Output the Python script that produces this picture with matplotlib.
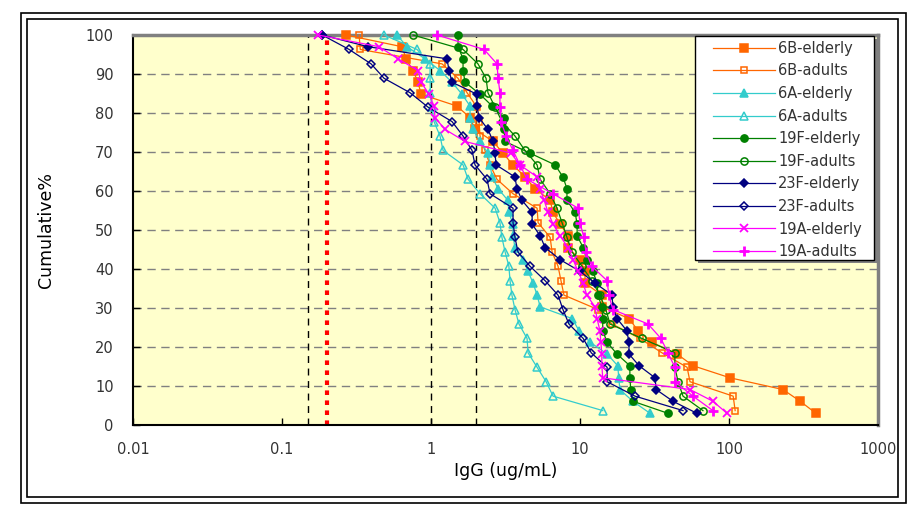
import matplotlib
matplotlib.use("Agg")
import matplotlib.pyplot as plt
from matplotlib.patches import Rectangle
from matplotlib.transforms import offset_copy

# cumulative % levels (elderly groups: 33 subjects, adults: 27 subjects)
y_elderly = [100, 97, 93.9, 90.9, 87.9, 84.8, 81.8, 78.8, 75.8, 72.7, 69.7,
             66.7, 63.6, 60.6, 57.6, 54.5, 51.5, 48.5, 45.5, 42.4, 39.4, 36.4,
             33.3, 30.3, 27.3, 24.2, 21.2, 18.2, 15.2, 12.1, 9.1, 6.1, 3]
y_adults = [100, 96.3, 92.6, 88.9, 85.2, 81.5, 77.8, 74.1, 70.4, 66.7, 63,
            59.3, 55.6, 51.9, 48.1, 44.4, 40.7, 37, 33.3, 29.6, 25.9, 22.2,
            18.5, 14.8, 11.1, 7.4, 3.7]

# IgG concentrations (ug/mL)
igg_6b_elderly = [0.269, 0.639, 0.68, 0.757, 0.818, 0.857, 1.49, 1.83, 1.97,
                  2.61, 3.04, 3.55, 4.27, 4.99, 6.30, 6.59, 7.35, 8.30, 8.30,
                  10.0, 10.8, 10.8, 14.0, 14.0, 21.3, 24.5, 30.4, 44.8, 57.3,
                  101.6, 230, 300, 383]
igg_6b_adults = [0.329, 0.335, 1.185, 1.518, 1.745, 2.034, 2.10, 2.133, 2.30,
                 2.49, 2.77, 3.55, 5.15, 5.23, 6.30, 6.49, 7.12, 7.45, 7.80,
                 13.2, 16.4, 25.2, 35.5, 52.3, 54.7, 106.6, 109.9]
igg_6a_elderly = [0.591, 0.69, 0.911, 1.149, 1.383, 1.614, 1.827, 1.827, 1.914,
                  2.133, 2.41, 2.49, 2.57, 2.82, 3.28, 3.33, 3.55, 3.55, 3.66,
                  4.14, 4.48, 4.84, 5.15, 5.40, 8.84, 9.85, 11.7, 15.2, 17.9,
                  18.2, 18.5, 22.6, 29.5]
igg_6a_adults = [0.484, 0.805, 0.985, 0.985, 0.99, 1.015, 1.047, 1.149, 1.204,
                 1.64, 1.772, 2.133, 2.69, 2.90, 2.99, 3.14, 3.33, 3.39, 3.49,
                 3.66, 3.89, 4.41, 4.48, 5.15, 5.92, 6.59, 14.2]
igg_19f_elderly = [1.518, 1.518, 1.64, 1.64, 1.692, 2.133, 2.57, 3.09, 3.09,
                   3.14, 4.62, 6.80, 7.68, 8.17, 8.17, 9.27, 9.56, 9.56, 10.5,
                   11.1, 12.2, 13.0, 13.2, 14.0, 14.2, 14.2, 15.2, 17.7, 21.6,
                   21.6, 21.9, 22.6, 38.9]
igg_19f_adults = [0.757, 1.64, 2.066, 2.34, 2.41, 2.69, 2.99, 3.66, 4.27, 5.15,
                  5.40, 6.30, 7.01, 7.57, 8.17, 8.84, 10.3, 12.0, 13.6, 14.9,
                  15.9, 26.0, 43.3, 43.3, 45.5, 49.1, 66.8]
igg_23f_elderly = [0.186, 0.378, 1.28, 1.32, 1.383, 2.034, 2.034, 2.10, 2.41,
                   2.61, 2.69, 2.73, 3.66, 3.77, 4.08, 4.77, 4.77, 5.40, 5.83,
                   7.35, 10.0, 12.6, 16.4, 16.6, 17.7, 20.6, 21.3, 21.3, 24.9,
                   31.9, 32.4, 42.0, 60.9]
igg_23f_adults = [0.186, 0.282, 0.396, 0.484, 0.723, 0.955, 1.383, 1.64, 1.885,
                  1.973, 2.375, 2.49, 3.55, 3.55, 3.66, 3.83, 4.62, 5.83, 7.12,
                  7.68, 8.42, 10.5, 11.9, 15.2, 15.2, 23.4, 49.1]
igg_19a_elderly = [0.175, 0.448, 0.60, 0.818, 0.857, 0.97, 1.047, 1.064, 1.242,
                   1.692, 3.44, 3.95, 5.15, 5.40, 5.74, 6.11, 6.59, 7.35, 8.30,
                   8.98, 9.70, 10.5, 11.1, 12.6, 13.0, 13.6, 13.8, 14.0, 14.0,
                   14.2, 54.7, 77.9, 96.9]
igg_19a_adults = [1.097, 2.27, 2.77, 2.82, 2.90, 2.90, 2.95, 3.19, 3.55, 3.95,
                  4.41, 6.59, 9.70, 10.0, 10.6, 10.97, 12.0, 15.2, 15.6, 16.6,
                  28.6, 34.9, 38.9, 43.3, 43.3, 57.3, 77.9]

cutoffs = [0.15, 1, 2]
red_cutoff = 0.2

orange = "#FF6600"
cyan = "#33CCCC"
green = "#008000"
navy = "#000080"
magenta = "#FF00FF"

series = [
    ("6B-elderly", igg_6b_elderly, y_elderly, orange, "s", True, 5.5),
    ("6B-adults", igg_6b_adults, y_adults, orange, "s", False, 5),
    ("6A-elderly", igg_6a_elderly, y_elderly, cyan, "^", True, 5.5),
    ("6A-adults", igg_6a_adults, y_adults, cyan, "^", False, 5.5),
    ("19F-elderly", igg_19f_elderly, y_elderly, green, "o", True, 5.2),
    ("19F-adults", igg_19f_adults, y_adults, green, "o", False, 5.2),
    ("23F-elderly", igg_23f_elderly, y_elderly, navy, "D", True, 4),
    ("23F-adults", igg_23f_adults, y_adults, navy, "D", False, 4),
    ("19A-elderly", igg_19a_elderly, y_elderly, magenta, "x", True, 5.5),
    ("19A-adults", igg_19a_adults, y_adults, magenta, "+", True, 7.5),
]

fig = plt.figure(figsize=(9.2, 5.09), dpi=100)
ax = fig.add_axes([0.1446, 0.165, 0.8098, 0.7662])
ax.set_facecolor("#FFFFCC")

# double frame around the chart
fig.patches.append(Rectangle((0.0228, 0.0118), 0.962, 0.9627, transform=fig.transFigure,
                             fill=False, edgecolor="black", linewidth=1.2))
fig.patches.append(Rectangle((0.0293, 0.0236), 0.9467, 0.939, transform=fig.transFigure,
                             fill=False, edgecolor="black", linewidth=1.2))

for yv in range(10, 100, 10):
    ax.axhline(yv, color="#808080", linewidth=1, dashes=(6, 4), zorder=1)
for xv in cutoffs:
    ax.axvline(xv, color="black", linewidth=1, dashes=(5, 4), zorder=1)
ax.axvline(red_cutoff, color="red", linewidth=3, dashes=(1.1, 1.3), zorder=1)

for name, xs, ys, col, mk, filled, ms in series:
    face = col if filled else "none"
    mew = 1.1
    if mk in ("x", "+"):
        mew = 1.3 if mk == "x" else 2.0
    ax.plot(xs, ys, color=col, linewidth=0.9, marker=mk, markersize=ms,
            markerfacecolor=face, markeredgecolor=col, markeredgewidth=mew,
            label=name, zorder=3, clip_on=False)

ax.set_xscale("log")
ax.set_xlim(0.01, 1000)
ax.set_ylim(0, 100)
ax.set_xticks([0.01, 0.1, 1, 10, 100, 1000])
ax.set_xticklabels(["0.01", "0.1", "1", "10", "100", "1000"])
ax.set_yticks(range(0, 101, 10))
ax.minorticks_off()
ax.tick_params(axis="both", direction="in", length=5, width=1, colors="black",
               labelcolor="#333333", labelsize=10.5)
ax.tick_params(axis="x", pad=12)
ax.tick_params(axis="y", pad=14)

for side in ("left", "bottom"):
    ax.spines[side].set_color("black")
    ax.spines[side].set_linewidth(1.5)
for side in ("top", "right"):
    ax.spines[side].set_color("#808080")
    ax.spines[side].set_linewidth(2.5)

ax.set_xlabel("IgG (ug/mL)", fontsize=12.5, labelpad=4)
ax.set_ylabel("Cumulative%", fontsize=12.5, labelpad=22)

# legend box with a grey drop shadow
box_x, box_y, box_w, box_h = 0.754, 0.423, 0.241, 0.575
shadow_tr = offset_copy(ax.transAxes, fig=fig, x=3, y=-3, units="dots")
ax.add_patch(Rectangle((box_x, box_y), box_w, box_h, transform=shadow_tr,
                       facecolor="#808080", edgecolor="none", zorder=5, clip_on=False))
ax.add_patch(Rectangle((box_x, box_y), box_w, box_h, transform=ax.transAxes,
                       facecolor="white", edgecolor="black", linewidth=1, zorder=6,
                       clip_on=False))

leg = ax.legend(loc="upper left", bbox_to_anchor=(0.779, 0.985), fontsize=10.5,
                frameon=False, borderaxespad=0, borderpad=0,
                labelspacing=0.52, handlelength=4.2, handletextpad=0.25)
leg.set_zorder(7)
for t in leg.get_texts():
    t.set_color("#333333")

fig.savefig("out.png", dpi=100)
